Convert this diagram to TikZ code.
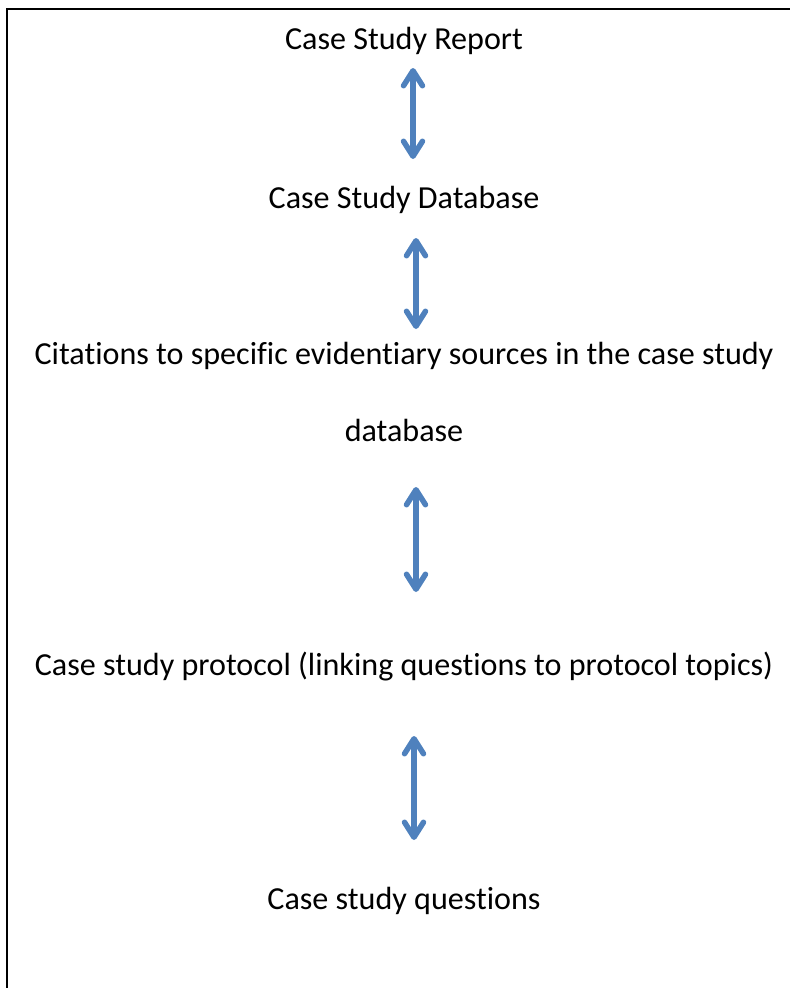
\documentclass[tikz,border=0pt]{standalone}
\usepackage{fontspec}
\setmainfont[Ligatures={NoCommon}]{Carlito}
\usetikzlibrary{arrows.meta}
\definecolor{arrowblue}{HTML}{4F81BD}
\tikzset{
  label/.style={anchor=base, inner sep=0pt, font=\fontsize{32.1}{36}\selectfont},
  link/.style={draw=arrowblue, line width=5.5pt,
    arrows={Straight Barb[length=15pt,width=19pt,round]-Straight Barb[length=15pt,width=19pt,round]}}
}
\begin{document}
\begin{tikzpicture}[x=1pt,y=-1pt]
  \useasboundingbox (0,0) rectangle (790,988);
  % frame: only the top and left sides fall inside the page
  \draw[line width=1.4pt] (7,988) -- (7,9) -- (790,9);

  \node[label] (report) at (404,49.5) {Case Study Report};
  \node[label] (db) at (404,208) {Case Study Database};
  \node[label] (cite) at (404,364) {Citations to specific evidentiary sources in the case study};
  \node[label] (cite2) at (404,441) {database};
  \node[label] (proto) at (404,675) {Case study protocol (linking questions to protocol topics)};
  \node[label] (quest) at (404,909) {Case study questions};

  % arrow ends, two per link
  \coordinate (a1) at (413,68);  \coordinate (b1) at (413,159);
  \coordinate (a2) at (416,238); \coordinate (b2) at (416,329);
  \coordinate (a3) at (416,487); \coordinate (b3) at (416,592);
  \coordinate (a4) at (414,736); \coordinate (b4) at (414,840);

  \draw[link] (a1) -- (b1);
  \draw[link] (a2) -- (b2);
  \draw[link] (a3) -- (b3);
  \draw[link] (a4) -- (b4);
\end{tikzpicture}
\end{document}
